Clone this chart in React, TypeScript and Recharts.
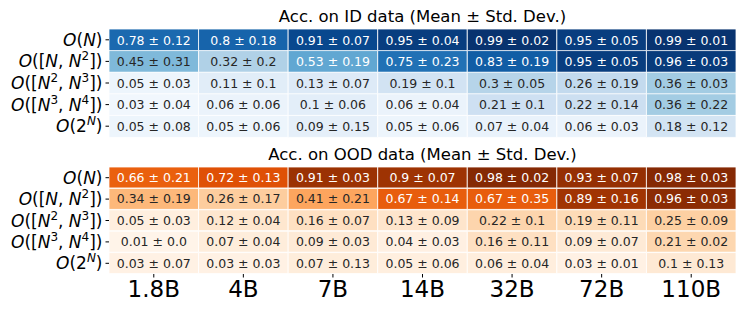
import React from "react";
import { BarChart, Bar, XAxis, YAxis, Cell, LabelList } from "recharts";

const models = ["1.8B", "4B", "7B", "14B", "32B", "72B", "110B"];
const rowLabels = ["O(N)", "O([N, N^2])", "O([N^2, N^3])", "O([N^3, N^4])", "O(2^N)"];

const idMean = [
  [0.78, 0.8, 0.91, 0.95, 0.99, 0.95, 0.99],
  [0.45, 0.32, 0.53, 0.75, 0.83, 0.95, 0.96],
  [0.05, 0.11, 0.13, 0.19, 0.3, 0.26, 0.36],
  [0.03, 0.06, 0.1, 0.06, 0.21, 0.22, 0.36],
  [0.05, 0.05, 0.09, 0.05, 0.07, 0.06, 0.18],
];
const idStd = [
  [0.12, 0.18, 0.07, 0.04, 0.02, 0.05, 0.01],
  [0.31, 0.2, 0.19, 0.23, 0.19, 0.05, 0.03],
  [0.03, 0.1, 0.07, 0.1, 0.05, 0.19, 0.03],
  [0.04, 0.06, 0.06, 0.04, 0.1, 0.14, 0.22],
  [0.08, 0.06, 0.15, 0.06, 0.04, 0.03, 0.12],
];
const oodMean = [
  [0.66, 0.72, 0.91, 0.9, 0.98, 0.93, 0.98],
  [0.34, 0.26, 0.41, 0.67, 0.67, 0.89, 0.96],
  [0.05, 0.12, 0.16, 0.13, 0.22, 0.19, 0.25],
  [0.01, 0.07, 0.09, 0.04, 0.16, 0.09, 0.21],
  [0.03, 0.03, 0.07, 0.05, 0.06, 0.03, 0.1],
];
const oodStd = [
  [0.21, 0.13, 0.03, 0.07, 0.02, 0.07, 0.03],
  [0.19, 0.17, 0.21, 0.14, 0.35, 0.16, 0.03],
  [0.03, 0.04, 0.07, 0.09, 0.1, 0.11, 0.09],
  [0.0, 0.04, 0.03, 0.03, 0.11, 0.07, 0.02],
  [0.07, 0.03, 0.13, 0.06, 0.04, 0.01, 0.13],
];

const BLUES = ["#f7fbff", "#deebf7", "#c6dbef", "#9ecae1", "#6baed6", "#4292c6", "#2171b5", "#08519c", "#08306b"];
const ORANGES = ["#fff5eb", "#fee6ce", "#fdd0a2", "#fdae6b", "#fd8d3c", "#f16913", "#d94801", "#a63603", "#7f2704"];

const FONT = "DejaVu Sans";

function hex(c: string) {
  return [1, 3, 5].map((i) => parseInt(c.slice(i, i + 2), 16));
}

function cmap(stops: string[], v: number) {
  const t = Math.max(0, Math.min(1, v)) * (stops.length - 1);
  const i = Math.min(Math.floor(t), stops.length - 2);
  const f = t - i;
  const a = hex(stops[i]);
  const b = hex(stops[i + 1]);
  const rgb = a.map((x, k) => Math.round(x + (b[k] - x) * f));
  return `rgb(${rgb.join(",")})`;
}

// python-ish float formatting (0.0 stays "0.0")
function fmt(v: number) {
  const s = String(v);
  return s.includes(".") ? s : s + ".0";
}

function MathTick(props: any) {
  const { x, y, payload } = props;
  const label: string = payload.value;
  const parts: React.ReactNode[] = [];
  let shifted = false;
  for (let i = 0; i < label.length; i++) {
    const ch = label[i];
    if (ch === "^") {
      const sup = label[i + 1];
      parts.push(
        <tspan key={i} dy={-7} fontSize={12} fontStyle={/[A-Z]/.test(sup) ? "italic" : "normal"}>
          {sup}
        </tspan>
      );
      shifted = true;
      i++;
      continue;
    }
    parts.push(
      <tspan key={i} dy={shifted ? 7 : undefined} fontStyle={/[A-Z]/.test(ch) ? "italic" : "normal"}>
        {ch === " " ? "\u00a0" : ch}
      </tspan>
    );
    shifted = false;
  }
  return (
    <text x={x - 1} y={y + 6} textAnchor="end" fontFamily={FONT} fontSize={17} fill="#000">
      {parts}
    </text>
  );
}

function Heatmap({
  mean,
  std,
  colors,
  showX,
  height,
  top,
}: {
  mean: number[][];
  std: number[][];
  colors: string[];
  showX: boolean;
  height: number;
  top: number;
}) {
  const data = rowLabels.map((label, r) => {
    const row: Record<string, any> = { label };
    models.forEach((_, c) => {
      row[`c${c}`] = 1;
      row[`t${c}`] = `${fmt(mean[r][c])} ± ${fmt(std[r][c])}`;
    });
    return row;
  });

  return (
    <BarChart
      width={747}
      height={height}
      data={data}
      layout="vertical"
      margin={{ top, right: 11, left: 0, bottom: showX ? 0 : height - top - 108 }}
      barCategoryGap={0}
      barGap={0}
    >
      <XAxis
        type="number"
        domain={[0, models.length]}
        ticks={models.map((_, i) => i + 0.5)}
        tickFormatter={(v) => models[Math.floor(v)]}
        hide={!showX}
        height={40}
        interval={0}
        axisLine={false}
        tickSize={3.5}
        tickLine={{ stroke: "#000" }}
        tick={{ fill: "#000", fontSize: 23, fontFamily: FONT, dy: 1 }}
      />
      <YAxis
        type="category"
        dataKey="label"
        width={109}
        interval={0}
        axisLine={false}
        tickSize={3.5}
        tickLine={{ stroke: "#000" }}
        tick={<MathTick />}
      />
      {models.map((_, c) => (
        <Bar key={c} dataKey={`c${c}`} stackId="a" isAnimationActive={false}>
          {data.map((_, r) => (
            <Cell key={r} fill={cmap(colors, mean[r][c])} stroke="#fff" strokeWidth={0.8} />
          ))}
          <LabelList
            dataKey={`t${c}`}
            content={(p: any) => (
              <text
                x={p.x + p.width / 2}
                y={p.y + p.height / 2}
                dy={4.5}
                textAnchor="middle"
                fontFamily={FONT}
                fontSize={12.5}
                fill={mean[p.index][c] > 0.5 ? "#fff" : "#262626"}
              >
                {p.value}
              </text>
            )}
          />
        </Bar>
      ))}
    </BarChart>
  );
}

const titleStyle: React.CSSProperties = {
  position: "absolute",
  left: 109,
  width: 627,
  textAlign: "center",
  fontFamily: FONT,
  fontSize: 16.5,
  lineHeight: "18px",
  color: "#000",
};

export default function App() {
  return (
    <div style={{ position: "absolute", left: 0, top: 0, width: 747, height: 314, background: "#fff" }}>
      <div style={{ position: "absolute", left: 0, top: 0 }}>
        <Heatmap mean={idMean} std={idStd} colors={BLUES} showX={false} height={145} top={29} />
      </div>
      <div style={{ position: "absolute", left: 0, top: 140 }}>
        <Heatmap mean={oodMean} std={oodStd} colors={ORANGES} showX={true} height={174} top={27} />
      </div>
      <div style={{ ...titleStyle, top: 8 }}>Acc. on ID data (Mean ± Std. Dev.)</div>
      <div style={{ ...titleStyle, top: 146 }}>Acc. on OOD data (Mean ± Std. Dev.)</div>
    </div>
  );
}
